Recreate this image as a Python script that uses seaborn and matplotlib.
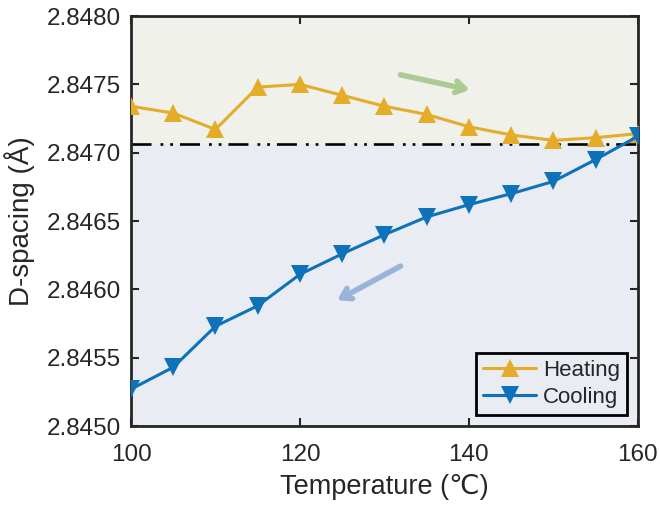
import matplotlib
matplotlib.use("Agg")
import matplotlib.pyplot as plt
import seaborn as sns
import pandas as pd

temperature = [100, 105, 110, 115, 120, 125, 130, 135, 140, 145, 150, 155, 160]
heating = [2.84734, 2.84729, 2.84717, 2.84748, 2.84750, 2.84742, 2.84734,
           2.84728, 2.84719, 2.84713, 2.84709, 2.84711, 2.84714]
cooling = [2.84527, 2.84543, 2.84573, 2.84588, 2.84611, 2.84626, 2.84640,
           2.84653, 2.84662, 2.84670, 2.84679, 2.84695, 2.84712]
reference_level = 2.847063
x_ticks = [100, 120, 140, 160]
y_ticks = [2.8450, 2.8455, 2.8460, 2.8465, 2.8470, 2.8475, 2.8480]
series_names = ["Heating", "Cooling"]
heat_arrow = [(131.9, 2.84757), (140.1, 2.84746)]
cool_arrow = [(131.9, 2.84617), (124.4, 2.84592)]

sns.set_theme(style="white")
plt.rcParams["font.family"] = ["Liberation Sans", "DejaVu Sans"]
plt.rcParams["lines.scale_dashes"] = False

df = pd.DataFrame({
    "Temperature": temperature * 2,
    "D": heating + cooling,
    "Series": [series_names[0]] * len(temperature) + [series_names[1]] * len(temperature),
})

fig = plt.figure(figsize=(6.6, 5.05), dpi=100)
ax = fig.add_axes([0.1985, 0.1564, 0.768, 0.8118])

ax.axhspan(reference_level, 2.8480, color="#f1f1ec", zorder=0, lw=0)
ax.axhspan(2.8450, reference_level, color="#e9ecf2", zorder=0, lw=0)

palette = {"Heating": "#E5AC2A", "Cooling": "#0E72BA"}
sns.lineplot(data=df, x="Temperature", y="D", hue="Series", style="Series",
             markers={"Heating": "^", "Cooling": "v"}, dashes=False,
             palette=palette, markersize=13, linewidth=2.2,
             markeredgewidth=0, ax=ax, zorder=3)

ax.axhline(reference_level, color="black", lw=1.9,
           ls=(0, (14.4, 6.5, 2, 5, 2, 5)), zorder=2)

ax.annotate("", xy=heat_arrow[1], xytext=heat_arrow[0],
            arrowprops=dict(arrowstyle="->,head_length=0.55,head_width=0.35",
                            color="#abcb93", lw=4, shrinkA=0, shrinkB=0,
                            capstyle="round", joinstyle="round"), zorder=2)
ax.annotate("", xy=cool_arrow[1], xytext=cool_arrow[0],
            arrowprops=dict(arrowstyle="->,head_length=0.55,head_width=0.35",
                            color="#98b5d9", lw=4, shrinkA=0, shrinkB=0,
                            capstyle="round", joinstyle="round"), zorder=2)

ax.set_xlim(100, 160)
ax.set_ylim(2.8450, 2.8480)
ax.set_xticks(x_ticks)
ax.set_yticks(y_ticks)
ax.set_xticklabels([str(t) for t in x_ticks])
ax.set_yticklabels([f"{t:.4f}" for t in y_ticks])
ax.tick_params(direction="in", length=6, width=1.5, labelsize=17.5, colors="#262626",
               top=True, right=True, bottom=True, left=True, pad=7)
ax.tick_params(axis="x", pad=13)
for s in ax.spines.values():
    s.set_linewidth(2.0)
    s.set_color("#262626")
    s.set_visible(True)

ax.set_xlabel("Temperature (℃)", fontsize=19.5, color="#262626", labelpad=6)
ax.set_ylabel("D-spacing (Å)", fontsize=20, color="#262626", labelpad=9)

leg = ax.legend(loc="lower right", fontsize=16, frameon=True, fancybox=False,
                handlelength=2.4, handletextpad=0.3, borderpad=0.3,
                labelspacing=0.3, borderaxespad=0.5)
leg.get_frame().set_edgecolor("black")
leg.get_frame().set_linewidth(2.0)
leg.get_frame().set_facecolor("#e9ecf2")
leg.get_frame().set_alpha(1)

fig.savefig("out.png", dpi=100)
